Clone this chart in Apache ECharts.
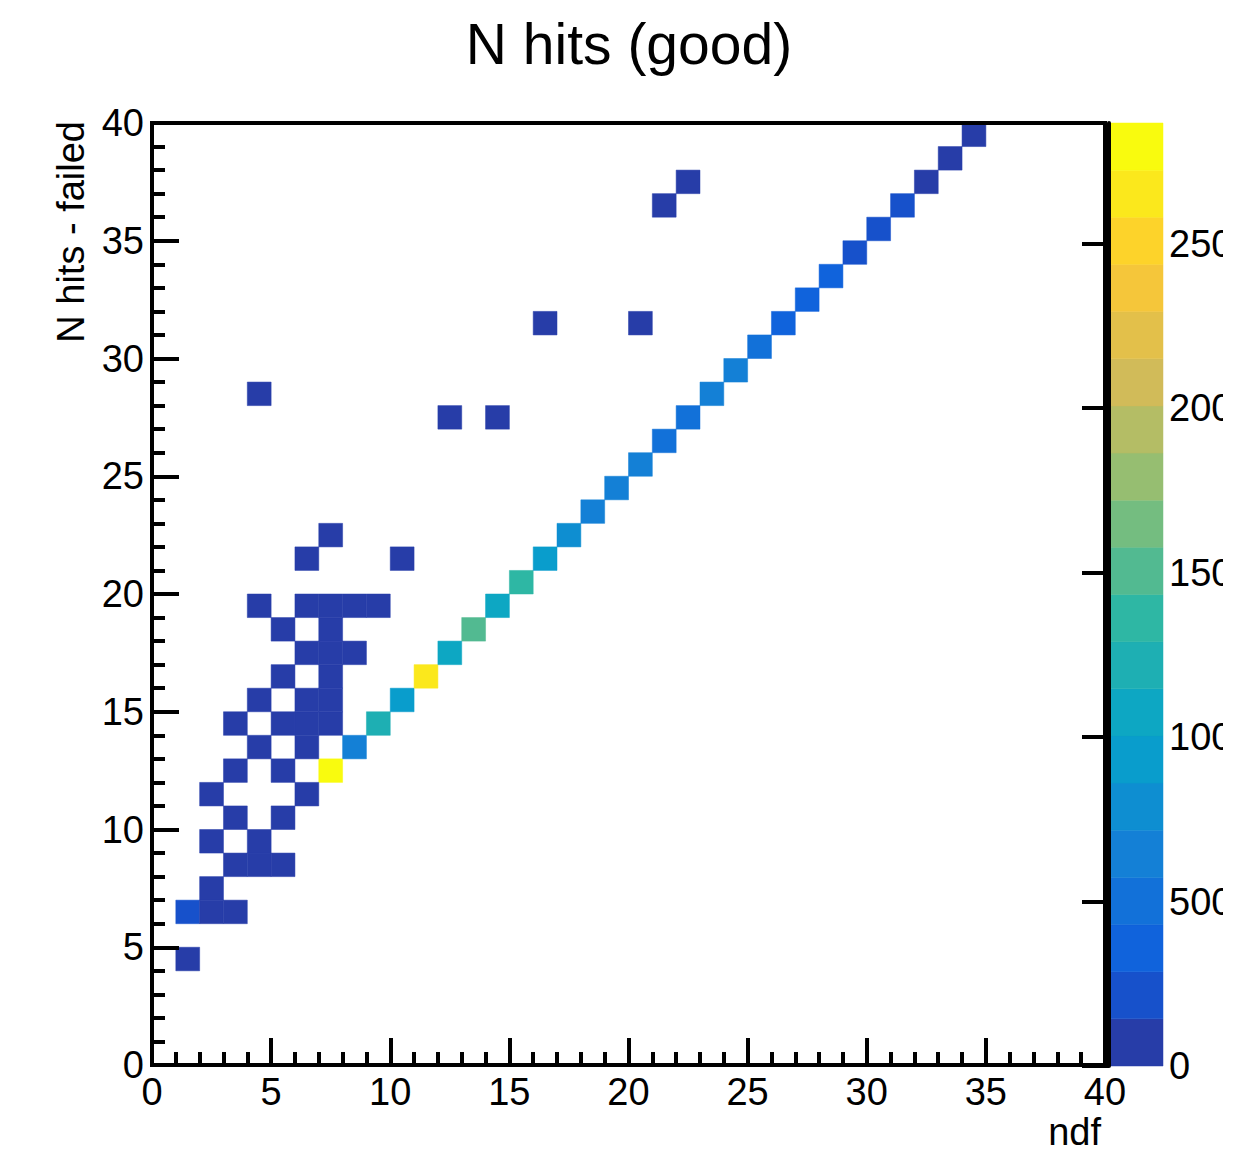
<!DOCTYPE html>
<html>
<head>
<meta charset="utf-8">
<script src="https://cdn.jsdelivr.net/npm/echarts@6/dist/echarts.min.js"></script>
<style>
html, body { margin: 0; padding: 0; background: #ffffff; }
#chart { width: 1223px; height: 1166px; overflow: hidden; }
</style>
</head>
<body>
<div id="chart"></div>
<script>
// ---------------- data ----------------
const chartTitle = 'N hits (good)';
const xTitle = 'ndf';
const yTitle = 'N hits - failed';
const xRange = [0, 40];
const yRange = [0, 40];
const axisTickStep = 5;
const zMax = 2867;
const zLevels = 20;
const zTickValues = [0, 500, 1000, 1500, 2000, 2500];

// [ndf bin low edge, N hits - failed bin low edge, entries]
const diagonalCells = [
  [1, 6, 210], [7, 12, 2867], [8, 13, 660], [9, 14, 1220], [10, 15, 930],
  [11, 16, 2650], [12, 17, 1080], [13, 18, 1500], [14, 19, 1060], [15, 20, 1350],
  [16, 21, 920], [17, 22, 790], [18, 23, 660], [19, 24, 650], [20, 25, 640],
  [21, 26, 510], [22, 27, 500], [23, 28, 620], [24, 29, 630], [25, 30, 490],
  [26, 31, 370], [27, 32, 350], [28, 33, 330], [29, 34, 270], [30, 35, 240],
  [31, 36, 200], [32, 37, 120], [33, 38, 80], [34, 39, 40]
];
const offDiagonalCells = [
  [1, 4, 12],
  [2, 6, 40], [3, 6, 25],
  [2, 7, 20],
  [3, 8, 15], [4, 8, 18], [5, 8, 6],
  [2, 9, 10], [4, 9, 8],
  [3, 10, 7], [5, 10, 9],
  [2, 11, 3], [6, 11, 5],
  [3, 12, 4], [5, 12, 6],
  [4, 13, 5], [6, 13, 7],
  [3, 14, 2], [5, 14, 4], [6, 14, 6], [7, 14, 5],
  [4, 15, 3], [6, 15, 4], [7, 15, 6],
  [5, 16, 2], [7, 16, 4],
  [6, 17, 3], [7, 17, 4], [8, 17, 2],
  [5, 18, 2], [7, 18, 3],
  [4, 19, 1], [6, 19, 2], [7, 19, 3], [8, 19, 2], [9, 19, 1],
  [6, 21, 1], [10, 21, 1],
  [7, 22, 1],
  [12, 27, 1], [14, 27, 1],
  [4, 28, 1],
  [16, 31, 1], [20, 31, 1],
  [21, 36, 1],
  [22, 37, 1]
];

// ---------------- palette (ROOT kBird) ----------------
const birdStops = [0.0, 0.125, 0.25, 0.375, 0.5, 0.625, 0.75, 0.875, 1.0];
const birdR = [0.2082, 0.0592, 0.0780, 0.0232, 0.1802, 0.5301, 0.8186, 0.9956, 0.9764];
const birdG = [0.1664, 0.3599, 0.5041, 0.6419, 0.7178, 0.7492, 0.7328, 0.7862, 0.9832];
const birdB = [0.5293, 0.8684, 0.8385, 0.7914, 0.6425, 0.4662, 0.3499, 0.1968, 0.0539];
function bird(f) {
  let k = 0;
  while (k < birdStops.length - 2 && f > birdStops[k + 1]) k++;
  const t = (f - birdStops[k]) / (birdStops[k + 1] - birdStops[k]);
  const c = (a) => Math.round(255 * (a[k] + (a[k + 1] - a[k]) * t));
  return 'rgb(' + c(birdR) + ',' + c(birdG) + ',' + c(birdB) + ')';
}
const levelColors = [];
for (let i = 0; i < zLevels; i++) {
  levelColors.push(bird(Math.floor((i + 0.99) * 255 / zLevels) / 254));
}
function levelIndex(v) {
  let i = Math.floor(v / zMax * zLevels);
  if (i >= zLevels) i = zLevels - 1;
  if (i < 0) i = 0;
  return i;
}
const bandStep = zMax / zLevels;
const bands = [];
for (let i = 0; i < zLevels; i++) bands.push([i * bandStep, (i + 1) * bandStep, i]);

const cells = diagonalCells.concat(offDiagonalCells);

// ---------------- chart ----------------
const FONT = '"Liberation Sans", Arial, Helvetica, sans-serif';
const black = '#000000';
const chart = echarts.init(document.getElementById('chart'), null, { renderer: 'svg' });

const mainAxisCommon = {
  type: 'value',
  interval: axisTickStep,
  axisLine: { show: true, onZero: false, lineStyle: { color: black, width: 4 } },
  axisTick: { show: true, inside: true, length: 27, lineStyle: { color: black, width: 4 } },
  minorTick: { show: true, splitNumber: 5, length: 13, lineStyle: { color: black, width: 4 } },
  splitLine: { show: false },
  minorSplitLine: { show: false },
  z: 5
};

chart.setOption({
  backgroundColor: '#ffffff',
  animation: false,
  grid: [
    { left: 152, top: 123, width: 953, height: 942, show: true, borderColor: black, borderWidth: 4,
      backgroundColor: 'transparent', z: 5, containLabel: false, outerBoundsMode: 'none' },
    { left: 1109, top: 123, width: 54, height: 943, show: false, containLabel: false, outerBoundsMode: 'none' }
  ],
  xAxis: [
    Object.assign({}, mainAxisCommon, {
      gridIndex: 0, min: xRange[0], max: xRange[1], position: 'bottom',
      axisLabel: { color: black, fontSize: 38, fontFamily: FONT, margin: 8 }
    }),
    { type: 'value', gridIndex: 1, min: 0, max: 1, show: false }
  ],
  yAxis: [
    Object.assign({}, mainAxisCommon, {
      gridIndex: 0, min: yRange[0], max: yRange[1], position: 'left',
      axisLabel: { color: black, fontSize: 38, fontFamily: FONT, margin: 8 }
    }),
    {
      type: 'value', gridIndex: 1, min: 0, max: zMax, position: 'right',
      axisLine: { show: true, lineStyle: { color: black, width: 4 } },
      axisTick: { show: true, inside: true, length: 27, customValues: zTickValues, lineStyle: { color: black, width: 4 } },
      axisLabel: { show: true, customValues: zTickValues, color: black, fontSize: 38, fontFamily: FONT, margin: 6,
        formatter: (v) => String(v), hideOverlap: false },
      splitLine: { show: false },
      z: 5
    }
  ],
  graphic: [
    { type: 'text', x: 629, y: 44, style: { text: chartTitle, font: '57px ' + FONT, fill: black, align: 'center', verticalAlign: 'middle' } },
    { type: 'text', x: 71, y: 121, rotation: Math.PI / 2, style: { text: yTitle, font: '38px ' + FONT, fill: black, align: 'right', verticalAlign: 'middle' } },
    { type: 'text', x: 1101, y: 1132, style: { text: xTitle, font: '38px ' + FONT, fill: black, align: 'right', verticalAlign: 'middle' } }
  ],
  series: [
    {
      type: 'custom',
      name: 'entries',
      xAxisIndex: 0, yAxisIndex: 0,
      coordinateSystem: 'cartesian2d',
      clip: true,
      z: 2,
      encode: { x: 0, y: 1 },
      data: cells,
      renderItem: function (params, api) {
        const x = api.value(0), y = api.value(1), v = api.value(2);
        const p0 = api.coord([x, y + 1]);
        const p1 = api.coord([x + 1, y]);
        const col = levelColors[levelIndex(v)];
        return {
          type: 'rect',
          shape: { x: p0[0], y: p0[1], width: p1[0] - p0[0], height: p1[1] - p0[1] },
          style: { fill: col, stroke: col, lineWidth: 0.5 }
        };
      }
    },
    {
      type: 'custom',
      name: 'palette',
      xAxisIndex: 1, yAxisIndex: 1,
      coordinateSystem: 'cartesian2d',
      z: 2,
      data: bands,
      renderItem: function (params, api) {
        const lo = api.value(0), hi = api.value(1), idx = api.value(2);
        const p0 = api.coord([0, hi]);
        const p1 = api.coord([1, lo]);
        const col = levelColors[idx];
        return {
          type: 'rect',
          shape: { x: p0[0], y: p0[1], width: p1[0] - p0[0], height: p1[1] - p0[1] },
          style: { fill: col, stroke: col, lineWidth: 0.5 }
        };
      }
    }
  ]
});
</script>
</body>
</html>
